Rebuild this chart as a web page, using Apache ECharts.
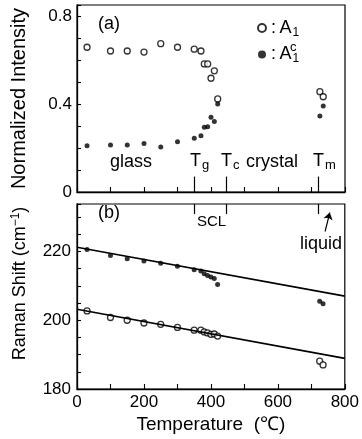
<!DOCTYPE html>
<html>
<head>
<meta charset="utf-8">
<script src="https://cdn.jsdelivr.net/npm/echarts@6/dist/echarts.min.js"></script>
<style>
  html, body { margin: 0; padding: 0; background: #fff; }
  #chart { width: 362px; height: 439px; }
</style>
</head>
<body>
<div id="chart"></div>
<script>
// temperatures (deg C) of the measured points, same for both panels
const temps = [30, 100, 150, 200, 250, 300, 350, 370, 380, 390, 400, 410, 420, 725, 735];
// (a) normalized intensity
const intensityA1 = [0.658, 0.641, 0.641, 0.636, 0.674, 0.658, 0.649, 0.641, 0.582, 0.582, 0.517, 0.551, 0.423, 0.456, 0.433];
const intensityA1c = [0.210, 0.214, 0.214, 0.221, 0.205, 0.228, 0.244, 0.256, 0.294, 0.297, 0.340, 0.320, 0.400, 0.345, 0.391];
// (b) raman shift
const shiftA1 = [202.7, 200.8, 200.0, 199.2, 198.8, 197.9, 197.1, 197.1, 196.6, 196.3, 195.9, 196.0, 195.4, 188.1, 187.0];
const shiftA1c = [220.6, 218.8, 217.9, 217.2, 216.6, 215.7, 214.7, 214.3, 213.5, 213.0, 212.6, 212.1, 210.4, 205.5, 204.8];
// linear fits
const fitTemps = [0, 800];
const fitA1 = [203.2, 188.9];
const fitA1c = [221.2, 207.0];
// Tg, Tc, Tm
const transitionTemps = [350, 445, 720];
// tick labels
const tempTicks = [0, 200, 400, 600, 800];
const intensityTicks = [0, 0.4, 0.8];
const shiftTicks = [180, 200, 220];

const FONT = '"Liberation Sans", Arial, sans-serif';
const pairs = (xs, ys) => xs.map((x, i) => [x, ys[i]]);

const openStyle = { color: '#fff', borderColor: '#000', borderWidth: 1.3 };
const filledStyle = { color: '#000' };
const axisLine = { lineStyle: { color: '#000', width: 1.3 } };
const tick = { inside: true, length: 5, lineStyle: { color: '#000', width: 1.1 } };

const chart = echarts.init(document.getElementById('chart'));

const subRich = {
  m: { fontFamily: FONT, fontSize: 18, color: '#000' },
  s: { fontFamily: FONT, fontSize: 13, color: '#000', padding: [9, 0, 0, 1] }
};

function label(text, x, y, size) {
  return {
    type: 'text', x: x, y: y, silent: true,
    style: { text: text, fontFamily: FONT, fontSize: size || 18, fill: '#000', verticalAlign: 'middle', rich: subRich }
  };
}

const option = {
  animation: false,
  backgroundColor: '#fff',
  textStyle: { fontFamily: FONT, color: '#000' },
  grid: [
    { left: 77, top: 5, width: 268, height: 187, show: true, borderColor: '#000', borderWidth: 1.2 },
    { left: 77, top: 204, width: 268, height: 185, show: true, borderColor: '#000', borderWidth: 1.2 }
  ],
  legend: {
    data: ['A1', 'A1c'],
    orient: 'vertical',
    left: 252, top: 14,
    itemWidth: 8, itemHeight: 8, itemGap: 7,
    selectedMode: false,
    formatter: () => '{t|:\u2009A}{s|1}',
    textStyle: {
      rich: {
        t: { fontFamily: FONT, fontSize: 18, color: '#000' },
        s: { fontFamily: FONT, fontSize: 12, color: '#000', padding: [9, 0, 0, 1] }
      }
    }
  },
  xAxis: [
    {
      gridIndex: 0, type: 'value', min: 0, max: 800, interval: 100,
      axisLine: axisLine, axisTick: tick, axisLabel: { show: false }, splitLine: { show: false }
    },
    {
      gridIndex: 1, type: 'value', min: 0, max: 800, interval: 100,
      axisLine: axisLine, axisTick: tick, splitLine: { show: false },
      axisLabel: {
        fontSize: 17, color: '#000', margin: 5,
        formatter: v => (tempTicks.includes(v) ? String(v) : '')
      },
      name: 'Temperature  (\u2103)', nameLocation: 'middle', nameGap: 26,
      nameTextStyle: { fontSize: 19, color: '#000' }
    }
  ],
  yAxis: [
    {
      gridIndex: 0, type: 'value', min: 0, max: 0.85, interval: 0.1,
      axisLine: axisLine, axisTick: { inside: true, length: 4, lineStyle: { color: '#000', width: 1.1 } },
      splitLine: { show: false },
      axisLabel: {
        fontSize: 17, color: '#000', margin: 5,
        formatter: v => {
          const hit = intensityTicks.find(t => Math.abs(t - v) < 1e-6);
          return hit === undefined ? '' : (hit === 0 ? '0' : hit.toFixed(1));
        }
      },
      name: 'Normalized Intensity', nameLocation: 'middle', nameGap: 48,
      nameTextStyle: { fontSize: 20, color: '#000' }
    },
    {
      gridIndex: 1, type: 'value', min: 180, max: 233.8, interval: 5,
      axisLine: axisLine, axisTick: { inside: true, length: 4, lineStyle: { color: '#000', width: 1.1 } },
      splitLine: { show: false },
      axisLabel: {
        fontSize: 17, color: '#000', margin: 6,
        formatter: v => (shiftTicks.some(t => Math.abs(t - v) < 1e-6) ? String(Math.round(v)) : '')
      },
      name: '{a|Raman Shift (cm}{s|\u22121}{a|)}', nameLocation: 'middle', nameGap: 46,
      nameTextStyle: {
        padding: [0, 0, 0, 26],
        rich: {
          a: { fontFamily: FONT, fontSize: 18, color: '#000' },
          s: { fontFamily: FONT, fontSize: 12, color: '#000', padding: [0, 0, 9, 0] }
        }
      }
    }
  ],
  series: [
    {
      name: 'A1', type: 'scatter', xAxisIndex: 0, yAxisIndex: 0,
      symbolSize: 6, itemStyle: openStyle, data: pairs(temps, intensityA1)
    },
    {
      name: 'A1c', type: 'scatter', xAxisIndex: 0, yAxisIndex: 0,
      symbolSize: 5, itemStyle: filledStyle, data: pairs(temps, intensityA1c)
    },
    {
      type: 'line', xAxisIndex: 0, yAxisIndex: 0, data: [], silent: true,
      markLine: {
        silent: true, symbol: 'none', label: { show: false },
        lineStyle: { color: '#000', type: 'solid', width: 1.2 },
        data: transitionTemps.map(t => [{ coord: [t, 0] }, { coord: [t, 0.07] }])
      }
    },
    {
      type: 'line', xAxisIndex: 1, yAxisIndex: 1, data: pairs(fitTemps, fitA1c),
      showSymbol: false, silent: true, lineStyle: { color: '#000', width: 1.6 }
    },
    {
      type: 'line', xAxisIndex: 1, yAxisIndex: 1, data: pairs(fitTemps, fitA1),
      showSymbol: false, silent: true, lineStyle: { color: '#000', width: 1.6 },
      markLine: {
        silent: true, symbol: 'none', label: { show: false },
        lineStyle: { color: '#000', type: 'solid', width: 1.2 },
        data: transitionTemps.map(t => [{ coord: [t, 233.8] }, { coord: [t, 230.9] }]).concat([
          [{ coord: [741, 225.8], symbol: 'none' }, { coord: [755, 231.3], symbol: 'arrow', symbolSize: 7 }]
        ])
      }
    },
    {
      name: 'A1', type: 'scatter', xAxisIndex: 1, yAxisIndex: 1,
      symbolSize: 6, itemStyle: openStyle, data: pairs(temps, shiftA1)
    },
    {
      name: 'A1c', type: 'scatter', xAxisIndex: 1, yAxisIndex: 1,
      symbolSize: 5, itemStyle: filledStyle, data: pairs(temps, shiftA1c)
    }
  ],
  graphic: [
    label('(a)', 98, 24),
    label('{s|c}', 289, 43),
    label('glass', 110, 162),
    label('{m|T}{s|g}', 190, 161),
    label('{m|T}{s|c}', 221, 161),
    label('crystal', 246, 162),
    label('{m|T}{s|m}', 313, 161),
    label('(b)', 98, 213),
    label('SCL', 197, 222, 15),
    label('liquid', 300, 244)
  ]
};

chart.setOption(option);
</script>
</body>
</html>
